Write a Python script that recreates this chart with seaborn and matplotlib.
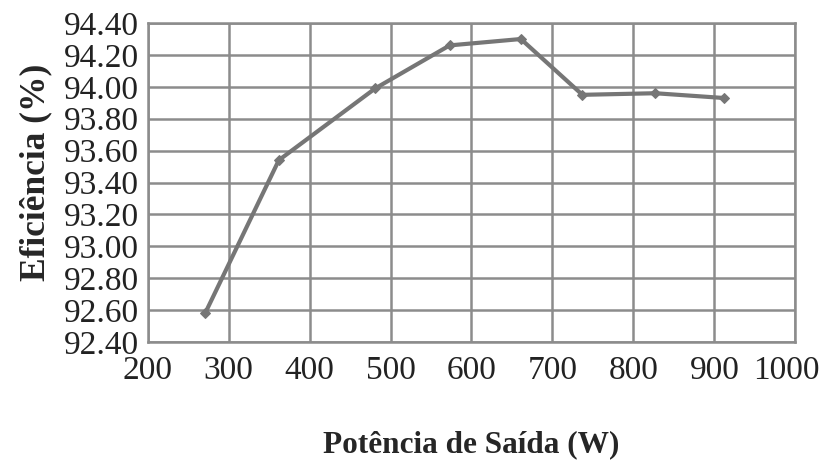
import matplotlib
matplotlib.use("Agg")
import matplotlib.pyplot as plt
import matplotlib.transforms as mtransforms
import seaborn as sns
import pandas as pd

# dados
potencia = [271, 362, 481, 573, 661, 737, 827, 912]
eficiencia = [92.58, 93.54, 93.99, 94.26, 94.30, 93.95, 93.96, 93.93]

x_ticks = [200, 300, 400, 500, 600, 700, 800, 900, 1000]
y_ticks = [92.40, 92.60, 92.80, 93.00, 93.20, 93.40, 93.60, 93.80, 94.00, 94.20, 94.40]

df = pd.DataFrame({"Potência": potencia, "Eficiência": eficiencia})

sns.set_style("white")
plt.rcParams["font.family"] = ["Liberation Serif", "DejaVu Serif"]

fig = plt.figure(figsize=(8.25, 4.71), dpi=100)
ax = fig.add_axes([0.179, 0.274, 0.785, 0.677])

sns.lineplot(data=df, x="Potência", y="Eficiência", ax=ax, color="#767676",
             linewidth=3, marker="D", markersize=5, markeredgecolor="#767676")

ax.set_xlim(200, 1000)
ax.set_ylim(92.40, 94.40)
ax.set_xticks(x_ticks)
ax.set_yticks(y_ticks)
ax.set_xticklabels([str(t) for t in x_ticks], fontsize=24)
ax.set_yticklabels([f"{t:.2f}" for t in y_ticks], fontsize=24)
ax.grid(True, color="#8c8c8c", linewidth=1.8)
ax.set_axisbelow(True)
for s in ax.spines.values():
    s.set_color("#8c8c8c")
    s.set_linewidth(1.8)
ax.tick_params(axis="y", length=5, width=1.5, color="#8c8c8c", pad=1, colors="#222222")
ax.tick_params(axis="x", length=3.5, width=1.5, color="#8c8c8c", pad=6, colors="#222222")

# o rótulo "1000" fica um pouco para a esquerda, como no original
ultimo = ax.get_xticklabels()[-1]
ultimo.set_transform(ultimo.get_transform() +
                     mtransforms.ScaledTranslation(-9 / 100, 0, fig.dpi_scale_trans))

ax.set_xlabel("Potência de Saída (W)", fontsize=22.5, fontweight="bold")
ax.set_ylabel("Eficiência (%)", fontsize=25.5, fontweight="bold")
ax.xaxis.set_label_coords(0.5, -0.276)
ax.yaxis.set_label_coords(-0.148, 0.533)

fig.savefig("out.png", dpi=100)
